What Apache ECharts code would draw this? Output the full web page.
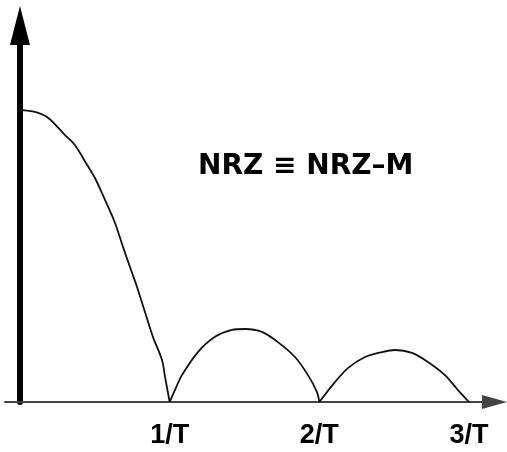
<!DOCTYPE html>
<html>
<head>
<meta charset="utf-8">
<script src="https://cdn.jsdelivr.net/npm/echarts@6/dist/echarts.min.js"></script>
<style>
  html, body { margin: 0; padding: 0; background: #fff; }
  #chart { width: 507px; height: 452px; }
</style>
</head>
<body>
<div id="chart"></div>
<script>
// frequency in units of 1/T, spectrum amplitude normalised to the peak
const mainLobeF = [0, 0.10, 0.187, 0.301, 0.367, 0.448, 0.501, 0.568, 0.635, 0.688, 0.735, 0.782, 0.835, 0.888, 0.949, 0.969, 1.0]
const mainLobeA = [1.0, 0.993, 0.973, 0.914, 0.880, 0.812, 0.767, 0.692, 0.613, 0.531, 0.462, 0.394, 0.308, 0.223, 0.144, 0.086, 0]

const secondLobeF = [1.0, 1.035, 1.082, 1.189, 1.303, 1.416, 1.503, 1.617, 1.723, 1.837, 1.924, 1.984, 2.0]
const secondLobeA = [0, 0.041, 0.092, 0.171, 0.223, 0.247, 0.250, 0.240, 0.205, 0.154, 0.092, 0.034, 0]

const thirdLobeF = [2.0, 2.104, 2.191, 2.305, 2.418, 2.505, 2.619, 2.725, 2.839, 2.926, 3.0]
const thirdLobeA = [0, 0.068, 0.116, 0.154, 0.171, 0.178, 0.168, 0.137, 0.092, 0.041, 0]

const tickValues = [1, 2, 3]
const tickLabels = ['1/T', '2/T', '3/T']
const titleText = 'NRZ \u2261 NRZ\u2013M'

const toPairs = (fs, as) => fs.map((f, i) => [f, as[i]])
const lobes = [
  toPairs(mainLobeF, mainLobeA),
  toPairs(secondLobeF, secondLobeA),
  toPairs(thirdLobeF, thirdLobeA)
]

const chart = echarts.init(document.getElementById('chart'), null, { renderer: 'canvas' })

chart.setOption({
  animation: false,
  backgroundColor: '#fff',
  title: {
    text: titleText,
    left: 193,
    top: 148,
    textStyle: {
      fontFamily: 'DejaVu Sans',
      fontWeight: 'bold',
      fontSize: 28,
      color: '#000'
    }
  },
  grid: {
    left: 5,
    right: 12.5,
    top: 25.5,
    bottom: 50
  },
  xAxis: {
    type: 'value',
    min: -0.1,
    max: 3.17,
    axisLine: {
      onZero: true,
      symbol: ['none', 'triangle'],
      symbolSize: [14, 25],
      lineStyle: { color: '#444', width: 2 }
    },
    axisTick: { show: false },
    splitLine: { show: false },
    axisLabel: {
      customValues: tickValues,
      margin: 20,
      fontFamily: 'Liberation Sans',
      fontWeight: 'bold',
      fontSize: 27,
      color: '#000',
      formatter: v => tickLabels[tickValues.indexOf(v)] || ''
    }
  },
  yAxis: {
    type: 'value',
    min: 0,
    max: 1.289,
    axisLine: {
      show: true,
      onZero: true,
      symbol: ['none', 'triangle'],
      symbolSize: [20, 39],
      lineStyle: { color: '#000', width: 6 }
    },
    axisTick: { show: false },
    axisLabel: { show: false },
    splitLine: { show: false }
  },
  series: lobes.map(lobe => ({
    type: 'line',
    data: lobe,
    symbol: 'none',
    smooth: 0.3,
    lineStyle: { color: '#111', width: 1.8 },
    z: 1
  }))
})
</script>
</body>
</html>
